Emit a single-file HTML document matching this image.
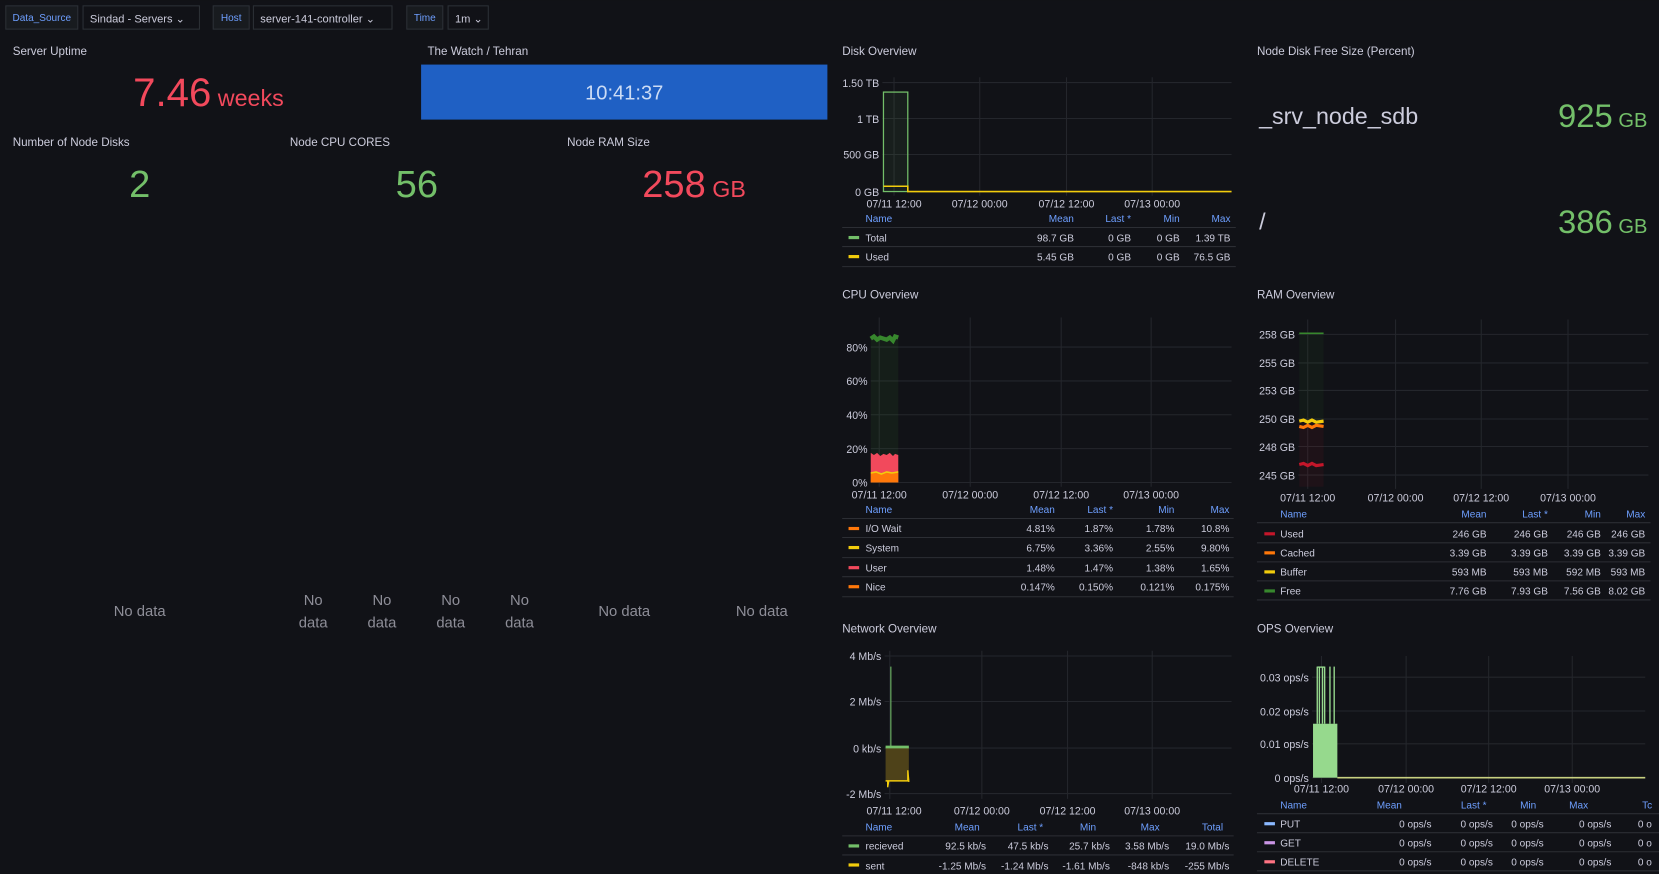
<!DOCTYPE html>
<html><head><meta charset="utf-8"><style>
html,body{margin:0;padding:0;background:#111217;overflow:hidden}
svg{display:block}
text{font-family:"Liberation Sans",sans-serif}
.t{fill:#ccccdc;font-size:11px}
.ax{fill:#ccccdc;font-size:10px}
.h{fill:#6e9fff;font-size:9.5px}
.v{fill:#ccccdc;font-size:9.5px}
.g{stroke:#24262c;stroke-width:1}
.sep{stroke:#2c2e34;stroke-width:1}
.nd{fill:#8e8e98;font-size:14px}
</style></head><body>
<svg width="1659" height="874" viewBox="0 0 1568 826" xmlns="http://www.w3.org/2000/svg">
<rect width="1568" height="826" fill="#111217"/>
<!-- top bar -->
<g font-size="10.5">
<rect x="5.5" y="5.5" width="68" height="22" fill="#181b1f" stroke="#2c3036"/><text x="39.5" y="20" text-anchor="middle" fill="#6e9fff" font-size="9.5">Data_Source</text>
<rect x="78.5" y="5.5" width="110" height="22" fill="#111217" stroke="#2c3036"/><text x="85" y="21" fill="#ccccdc">Sindad - Servers ⌄</text>
<rect x="201.5" y="5.5" width="34" height="22" fill="#181b1f" stroke="#2c3036"/><text x="218.5" y="20" text-anchor="middle" fill="#6e9fff" font-size="9.5">Host</text>
<rect x="239.5" y="5.5" width="131" height="22" fill="#111217" stroke="#2c3036"/><text x="246" y="21" fill="#ccccdc">server-141-controller ⌄</text>
<rect x="384.5" y="5.5" width="34" height="22" fill="#181b1f" stroke="#2c3036"/><text x="401.5" y="20" text-anchor="middle" fill="#6e9fff" font-size="9.5">Time</text>
<rect x="423.5" y="5.5" width="38" height="22" fill="#111217" stroke="#2c3036"/><text x="430" y="21" fill="#ccccdc">1m ⌄</text>
</g>
<!-- stats -->
<text class="t" x="12" y="52">Server Uptime</text>
<text x="197" y="100" text-anchor="middle" fill="#f2495c"><tspan font-size="38">7.46</tspan><tspan font-size="22"> weeks</tspan></text>
<text class="t" x="404" y="52">The Watch / Tehran</text>
<rect x="398" y="61" width="384" height="52" fill="#1f60c4"/>
<text x="590" y="94" text-anchor="middle" fill="#ccdcf5" font-size="19">10:41:37</text>
<text class="t" x="12" y="138">Number of Node Disks</text>
<text class="t" x="274" y="138">Node CPU CORES</text>
<text class="t" x="536" y="138">Node RAM Size</text>
<text x="132" y="186" text-anchor="middle" fill="#73bf69" font-size="36">2</text>
<text x="394" y="186" text-anchor="middle" fill="#73bf69" font-size="36">56</text>
<text x="656" y="186" text-anchor="middle" fill="#f2495c"><tspan font-size="36">258</tspan><tspan font-size="22"> GB</tspan></text>
<text class="nd" x="132" y="582" text-anchor="middle">No data</text>
<text class="nd" x="296" y="572" text-anchor="middle">No</text><text class="nd" x="296" y="593" text-anchor="middle">data</text>
<text class="nd" x="361" y="572" text-anchor="middle">No</text><text class="nd" x="361" y="593" text-anchor="middle">data</text>
<text class="nd" x="426" y="572" text-anchor="middle">No</text><text class="nd" x="426" y="593" text-anchor="middle">data</text>
<text class="nd" x="491" y="572" text-anchor="middle">No</text><text class="nd" x="491" y="593" text-anchor="middle">data</text>
<text class="nd" x="590" y="582" text-anchor="middle">No data</text>
<text class="nd" x="720" y="582" text-anchor="middle">No data</text>

<!-- Disk Overview -->
<text class="t" x="796" y="52">Disk Overview</text>
<g class="g"><line x1="834" y1="78" x2="1164" y2="78"/><line x1="834" y1="112" x2="1164" y2="112"/><line x1="834" y1="146" x2="1164" y2="146"/><line x1="834" y1="181" x2="1164" y2="181"/>
<line x1="845" y1="73" x2="845" y2="185"/><line x1="926" y1="73" x2="926" y2="185"/><line x1="1008" y1="73" x2="1008" y2="185"/><line x1="1089" y1="73" x2="1089" y2="185"/></g>
<g class="ax" text-anchor="end"><text x="831" y="82">1.50 TB</text><text x="831" y="116">1 TB</text><text x="831" y="150">500 GB</text><text x="831" y="185">0 GB</text></g>
<g class="ax" text-anchor="middle"><text x="845" y="196">07/11 12:00</text><text x="926" y="196">07/12 00:00</text><text x="1008" y="196">07/12 12:00</text><text x="1089" y="196">07/13 00:00</text></g>
<rect x="835" y="87" width="23" height="94" fill="rgba(115,191,105,0.08)" stroke="#73bf69" stroke-width="1.2"/>
<polyline points="835,176 858,176 858,181 1164,181" fill="none" stroke="#f2cc0c" stroke-width="1.5"/>
<g class="h"><text x="818" y="210">Name</text><g text-anchor="end"><text x="1015" y="210">Mean</text><text x="1069" y="210">Last *</text><text x="1115" y="210">Min</text><text x="1163" y="210">Max</text></g></g>
<g class="sep"><line x1="796" y1="215" x2="1168" y2="215"/><line x1="796" y1="233" x2="1168" y2="233"/><line x1="796" y1="252" x2="1168" y2="252"/></g>
<rect x="802" y="223" width="10" height="3" fill="#73bf69"/><rect x="802" y="241" width="10" height="3" fill="#f2cc0c"/>
<g class="v"><text x="818" y="228">Total</text><text x="818" y="246">Used</text>
<g text-anchor="end"><text x="1015" y="228">98.7 GB</text><text x="1069" y="228">0 GB</text><text x="1115" y="228">0 GB</text><text x="1163" y="228">1.39 TB</text>
<text x="1015" y="246">5.45 GB</text><text x="1069" y="246">0 GB</text><text x="1115" y="246">0 GB</text><text x="1163" y="246">76.5 GB</text></g></g>

<!-- Node Disk Free -->
<text class="t" x="1188" y="52">Node Disk Free Size (Percent)</text>
<text x="1190" y="117" fill="#ccccdc" font-size="22">_srv_node_sdb</text>
<text x="1557" y="120" text-anchor="end" fill="#73bf69"><tspan font-size="31">925</tspan><tspan font-size="19"> GB</tspan></text>
<text x="1190" y="217" fill="#ccccdc" font-size="22">/</text>
<text x="1557" y="220" text-anchor="end" fill="#73bf69"><tspan font-size="31">386</tspan><tspan font-size="19"> GB</tspan></text>

<!-- CPU -->
<text class="t" x="796" y="282">CPU Overview</text>
<g class="g"><line x1="823" y1="328" x2="1164" y2="328"/><line x1="823" y1="360" x2="1164" y2="360"/><line x1="823" y1="392" x2="1164" y2="392"/><line x1="823" y1="424" x2="1164" y2="424"/><line x1="823" y1="456" x2="1164" y2="456"/>
<line x1="831" y1="300" x2="831" y2="460"/><line x1="917" y1="300" x2="917" y2="460"/><line x1="1003" y1="300" x2="1003" y2="460"/><line x1="1088" y1="300" x2="1088" y2="460"/></g>
<g class="ax" text-anchor="end"><text x="820" y="332">80%</text><text x="820" y="364">60%</text><text x="820" y="396">40%</text><text x="820" y="428">20%</text><text x="820" y="460">0%</text></g>
<g class="ax" text-anchor="middle"><text x="831" y="471">07/11 12:00</text><text x="917" y="471">07/12 00:00</text><text x="1003" y="471">07/12 12:00</text><text x="1088" y="471">07/13 00:00</text></g>
<rect x="823" y="318" width="26" height="138" fill="rgba(55,135,45,0.1)"/>
<polyline points="823,320 826,318 829,321 832,319 835,320 838,321 841,319 844,322 846,318 849,319" fill="none" stroke="#37872d" stroke-width="4"/>
<polygon points="823,456 823,428 826,430 829,428 832,431 835,429 838,430 841,428 844,431 846,429 849,430 849,456" fill="#f2495c"/>
<polygon points="823,456 823,447 849,447 849,456" fill="#ff780a"/>
<polyline points="823,447 828,446 833,448 838,446 843,447 849,446" fill="none" stroke="#f2cc0c" stroke-width="1.5"/>
<g class="h"><text x="818" y="485">Name</text><g text-anchor="end"><text x="997" y="485">Mean</text><text x="1052" y="485">Last *</text><text x="1110" y="485">Min</text><text x="1162" y="485">Max</text></g></g>
<g class="sep"><line x1="796" y1="490" x2="1166" y2="490"/><line x1="796" y1="508" x2="1166" y2="508"/><line x1="796" y1="527" x2="1166" y2="527"/><line x1="796" y1="545" x2="1166" y2="545"/><line x1="796" y1="564" x2="1166" y2="564"/></g>
<rect x="802" y="498" width="10" height="3" fill="#ff780a"/><rect x="802" y="516" width="10" height="3" fill="#f2cc0c"/><rect x="802" y="535" width="10" height="3" fill="#f2495c"/><rect x="802" y="553" width="10" height="3" fill="#ff780a"/>
<g class="v"><text x="818" y="503">I/O Wait</text><text x="818" y="521">System</text><text x="818" y="540">User</text><text x="818" y="558">Nice</text>
<g text-anchor="end">
<text x="997" y="503">4.81%</text><text x="1052" y="503">1.87%</text><text x="1110" y="503">1.78%</text><text x="1162" y="503">10.8%</text>
<text x="997" y="521">6.75%</text><text x="1052" y="521">3.36%</text><text x="1110" y="521">2.55%</text><text x="1162" y="521">9.80%</text>
<text x="997" y="540">1.48%</text><text x="1052" y="540">1.47%</text><text x="1110" y="540">1.38%</text><text x="1162" y="540">1.65%</text>
<text x="997" y="558">0.147%</text><text x="1052" y="558">0.150%</text><text x="1110" y="558">0.121%</text><text x="1162" y="558">0.175%</text></g></g>

<!-- RAM -->
<text class="t" x="1188" y="282">RAM Overview</text>
<g class="g"><line x1="1227" y1="316" x2="1558" y2="316"/><line x1="1227" y1="343" x2="1558" y2="343"/><line x1="1227" y1="369" x2="1558" y2="369"/><line x1="1227" y1="396" x2="1558" y2="396"/><line x1="1227" y1="422" x2="1558" y2="422"/><line x1="1227" y1="449" x2="1558" y2="449"/>
<line x1="1236" y1="302" x2="1236" y2="462"/><line x1="1319" y1="302" x2="1319" y2="462"/><line x1="1400" y1="302" x2="1400" y2="462"/><line x1="1482" y1="302" x2="1482" y2="462"/></g>
<g class="ax" text-anchor="end"><text x="1224" y="320">258 GB</text><text x="1224" y="347">255 GB</text><text x="1224" y="373">253 GB</text><text x="1224" y="400">250 GB</text><text x="1224" y="426">248 GB</text><text x="1224" y="453">245 GB</text></g>
<g class="ax" text-anchor="middle"><text x="1236" y="474">07/11 12:00</text><text x="1319" y="474">07/12 00:00</text><text x="1400" y="474">07/12 12:00</text><text x="1482" y="474">07/13 00:00</text></g>
<rect x="1228" y="315" width="23" height="84" fill="rgba(55,135,45,0.07)"/>
<rect x="1228" y="399" width="23" height="61" fill="rgba(196,22,42,0.08)"/>
<line x1="1228" y1="315" x2="1251" y2="315" stroke="#37872d" stroke-width="1.5"/>
<polyline points="1228,398 1232,397 1236,399 1240,397 1244,399 1251,398" fill="none" stroke="#f2cc0c" stroke-width="3"/>
<polyline points="1228,403 1232,404 1236,402 1240,404 1244,402 1251,403" fill="none" stroke="#ff780a" stroke-width="3"/>
<polyline points="1228,439 1232,438 1236,440 1240,438 1244,440 1251,439" fill="none" stroke="#c4162a" stroke-width="3"/>
<g class="h"><text x="1210" y="489">Name</text><g text-anchor="end"><text x="1405" y="489">Mean</text><text x="1463" y="489">Last *</text><text x="1513" y="489">Min</text><text x="1555" y="489">Max</text></g></g>
<g class="sep"><line x1="1188" y1="494" x2="1560" y2="494"/><line x1="1188" y1="513" x2="1560" y2="513"/><line x1="1188" y1="531" x2="1560" y2="531"/><line x1="1188" y1="549" x2="1560" y2="549"/><line x1="1188" y1="567" x2="1560" y2="567"/></g>
<rect x="1195" y="503" width="10" height="3" fill="#c4162a"/><rect x="1195" y="521" width="10" height="3" fill="#ff780a"/><rect x="1195" y="539" width="10" height="3" fill="#f2cc0c"/><rect x="1195" y="557" width="10" height="3" fill="#37872d"/>
<g class="v"><text x="1210" y="508">Used</text><text x="1210" y="526">Cached</text><text x="1210" y="544">Buffer</text><text x="1210" y="562">Free</text>
<g text-anchor="end">
<text x="1405" y="508">246 GB</text><text x="1463" y="508">246 GB</text><text x="1513" y="508">246 GB</text><text x="1555" y="508">246 GB</text>
<text x="1405" y="526">3.39 GB</text><text x="1463" y="526">3.39 GB</text><text x="1513" y="526">3.39 GB</text><text x="1555" y="526">3.39 GB</text>
<text x="1405" y="544">593 MB</text><text x="1463" y="544">593 MB</text><text x="1513" y="544">592 MB</text><text x="1555" y="544">593 MB</text>
<text x="1405" y="562">7.76 GB</text><text x="1463" y="562">7.93 GB</text><text x="1513" y="562">7.56 GB</text><text x="1555" y="562">8.02 GB</text></g></g>

<!-- Network -->
<text class="t" x="796" y="598">Network Overview</text>
<g class="g"><line x1="836" y1="620" x2="1164" y2="620"/><line x1="836" y1="663" x2="1164" y2="663"/><line x1="836" y1="707" x2="1164" y2="707"/><line x1="836" y1="750" x2="1164" y2="750"/>
<line x1="841" y1="615" x2="841" y2="755"/><line x1="928" y1="615" x2="928" y2="755"/><line x1="1009" y1="615" x2="1009" y2="755"/><line x1="1089" y1="615" x2="1089" y2="755"/></g>
<g class="ax" text-anchor="end"><text x="833" y="624">4 Mb/s</text><text x="833" y="667">2 Mb/s</text><text x="833" y="711">0 kb/s</text><text x="833" y="754">-2 Mb/s</text></g>
<g class="ax" text-anchor="middle"><text x="845" y="770">07/11 12:00</text><text x="928" y="770">07/12 00:00</text><text x="1009" y="770">07/12 12:00</text><text x="1089" y="770">07/13 00:00</text></g>
<rect x="837" y="706" width="22" height="33" fill="#4e4219"/>
<line x1="842" y1="630" x2="842" y2="707" stroke="#73bf69" stroke-width="1"/>
<line x1="837" y1="706" x2="859" y2="706" stroke="#73bf69" stroke-width="2.5"/>
<polyline points="837,738 839,738 839,744 840,738 858,738 858,728 859,739" fill="none" stroke="#f2cc0c" stroke-width="1.3"/>
<g class="h"><text x="818" y="785">Name</text><g text-anchor="end"><text x="926" y="785">Mean</text><text x="986" y="785">Last *</text><text x="1036" y="785">Min</text><text x="1096" y="785">Max</text><text x="1156" y="785">Total</text></g></g>
<g class="sep"><line x1="796" y1="790" x2="1166" y2="790"/><line x1="796" y1="808" x2="1166" y2="808"/></g>
<rect x="802" y="798" width="10" height="3" fill="#73bf69"/><rect x="802" y="816" width="10" height="3" fill="#f2cc0c"/>
<g class="v"><text x="818" y="803">recieved</text><text x="818" y="822">sent</text>
<g text-anchor="end">
<text x="932" y="803">92.5 kb/s</text><text x="991" y="803">47.5 kb/s</text><text x="1049" y="803">25.7 kb/s</text><text x="1105" y="803">3.58 Mb/s</text><text x="1162" y="803">19.0 Mb/s</text>
<text x="932" y="822">-1.25 Mb/s</text><text x="991" y="822">-1.24 Mb/s</text><text x="1049" y="822">-1.61 Mb/s</text><text x="1105" y="822">-848 kb/s</text><text x="1162" y="822">-255 Mb/s</text></g></g>

<!-- OPS -->
<text class="t" x="1188" y="598">OPS Overview</text>
<g class="g"><line x1="1240" y1="640" x2="1555" y2="640"/><line x1="1240" y1="672" x2="1555" y2="672"/><line x1="1240" y1="703" x2="1555" y2="703"/><line x1="1240" y1="735" x2="1555" y2="735"/>
<line x1="1249" y1="620" x2="1249" y2="740"/><line x1="1329" y1="620" x2="1329" y2="740"/><line x1="1407" y1="620" x2="1407" y2="740"/><line x1="1486" y1="620" x2="1486" y2="740"/></g>
<g class="ax" text-anchor="end"><text x="1237" y="644">0.03 ops/s</text><text x="1237" y="676">0.02 ops/s</text><text x="1237" y="707">0.01 ops/s</text><text x="1237" y="739">0 ops/s</text></g>
<g class="ax" text-anchor="middle"><text x="1249" y="749">07/11 12:00</text><text x="1329" y="749">07/12 00:00</text><text x="1407" y="749">07/12 12:00</text><text x="1486" y="749">07/13 00:00</text></g>
<rect x="1241" y="684" width="23" height="51" fill="#96d98d"/>
<g stroke="#96d98d" stroke-width="1.3"><line x1="1245" y1="630" x2="1245" y2="684"/><line x1="1247" y1="630" x2="1247" y2="684"/><line x1="1250" y1="630" x2="1250" y2="684"/><line x1="1252" y1="630" x2="1252" y2="684"/><line x1="1257" y1="630" x2="1257" y2="684"/><line x1="1261" y1="630" x2="1261" y2="684"/></g>
<line x1="1245" y1="630.5" x2="1252" y2="630.5" stroke="#96d98d" stroke-width="1.3"/>
<line x1="1264" y1="735" x2="1555" y2="735" stroke="#c8d080" stroke-width="1.5"/>
<g class="h"><text x="1210" y="764">Name</text><g text-anchor="end"><text x="1325" y="764">Mean</text><text x="1405" y="764">Last *</text><text x="1452" y="764">Min</text><text x="1501" y="764">Max</text></g><text x="1552" y="764">Tc</text></g>
<g class="sep"><line x1="1188" y1="769" x2="1568" y2="769"/><line x1="1188" y1="787" x2="1568" y2="787"/><line x1="1188" y1="805" x2="1568" y2="805"/><line x1="1188" y1="823" x2="1568" y2="823"/></g>
<rect x="1195" y="777" width="10" height="3" fill="#8ab8ff"/><rect x="1195" y="795" width="10" height="3" fill="#ca95e5"/><rect x="1195" y="813" width="10" height="3" fill="#ff7383"/>
<g class="v"><text x="1210" y="782">PUT</text><text x="1210" y="800">GET</text><text x="1210" y="818">DELETE</text>
<g text-anchor="end">
<text x="1353" y="782">0 ops/s</text><text x="1411" y="782">0 ops/s</text><text x="1459" y="782">0 ops/s</text><text x="1523" y="782">0 ops/s</text>
<text x="1353" y="800">0 ops/s</text><text x="1411" y="800">0 ops/s</text><text x="1459" y="800">0 ops/s</text><text x="1523" y="800">0 ops/s</text>
<text x="1353" y="818">0 ops/s</text><text x="1411" y="818">0 ops/s</text><text x="1459" y="818">0 ops/s</text><text x="1523" y="818">0 ops/s</text></g>
<text x="1548" y="782">0 o</text><text x="1548" y="800">0 o</text><text x="1548" y="818">0 o</text></g>
</svg>
</body></html>
